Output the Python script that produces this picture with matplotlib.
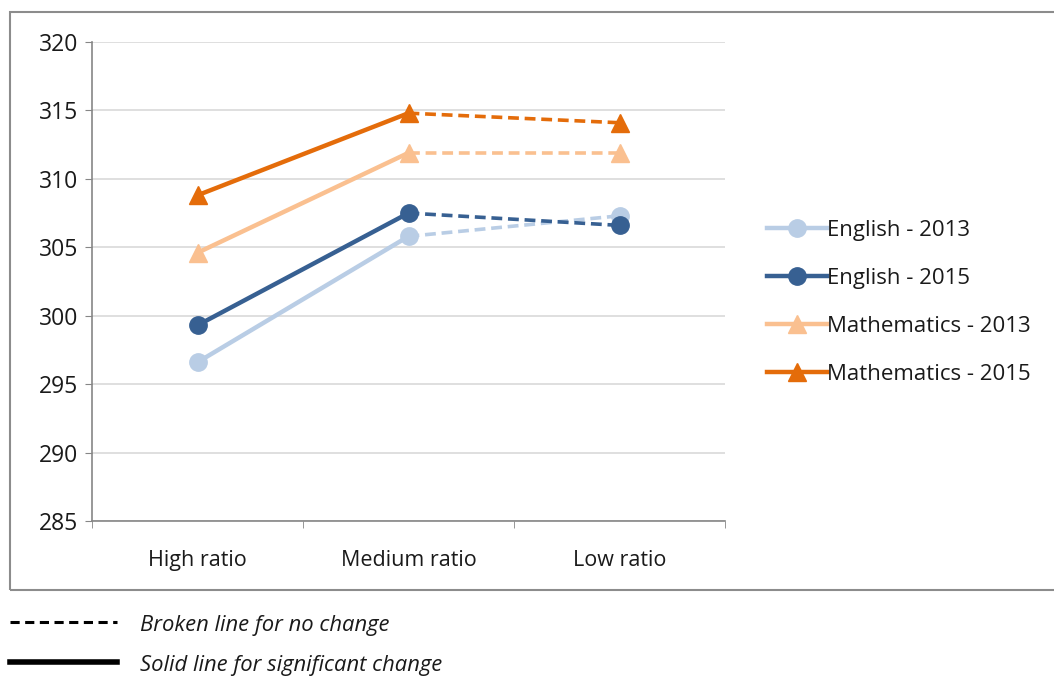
import matplotlib
matplotlib.use("Agg")
import matplotlib.pyplot as plt
from matplotlib.lines import Line2D
from matplotlib.patches import Rectangle

categories = ["High ratio", "Medium ratio", "Low ratio"]
english_2013 = [296.6, 305.8, 307.3]
english_2015 = [299.3, 307.5, 306.6]
maths_2013 = [304.6, 311.9, 311.9]
maths_2015 = [308.8, 314.8, 314.1]
series_names = ["English - 2013", "English - 2015", "Mathematics - 2013", "Mathematics - 2015"]
yticks = [285, 290, 295, 300, 305, 310, 315, 320]

colours = ["#B9CDE5", "#376092", "#FAC090", "#E46C0A"]
markers = ["o", "o", "^", "^"]

plt.rcParams["font.family"] = ["Open Sans", "DejaVu Sans"]

fig = plt.figure(figsize=(10.54, 6.76), dpi=100)
ax = fig.add_axes([92 / 1054, 1 - 521 / 676, (725 - 92) / 1054, (521 - 42) / 676])

x = list(range(len(categories)))
handles = []
for vals, col, mk, name in zip([english_2013, english_2015, maths_2013, maths_2015],
                               colours, markers, series_names):
    # first step is a significant change, second step is not
    ax.plot(x[:2], vals[:2], color=col, lw=3.2, solid_capstyle="round", zorder=3)
    ax.plot(x[1:], vals[1:], color=col, lw=2.6, ls=(0, (3, 1.6)), zorder=3)
    ax.plot(x, vals, ls="none", marker=mk, ms=12.5, color=col, zorder=4)
    handles.append(Line2D([], [], color=col, lw=3.2, marker=mk, ms=12.5))

ax.set_xlim(-0.5, 2.5)
ax.set_ylim(285, 320)
ax.set_yticks(yticks)
ax.set_xticks(x)
ax.set_xticklabels(categories)
ax.set_xticks([-0.5, 0.5, 1.5, 2.5], minor=True)
ax.tick_params(axis="x", which="major", length=0, pad=21, labelsize=15.5, labelcolor="#1a1a1a")
ax.tick_params(axis="x", which="minor", length=5, color="#868686", direction="out")
ax.tick_params(axis="y", length=5, color="#868686", pad=5, labelsize=16.5, labelcolor="#1a1a1a")
ax.grid(axis="y", color="#D9D9D9", lw=1.2, zorder=0)
for s in ["top", "right"]:
    ax.spines[s].set_visible(False)
for s in ["left", "bottom"]:
    ax.spines[s].set_color("#868686")
    ax.spines[s].set_linewidth(1.2)

fig.legend(handles=handles, labels=series_names, loc="upper left",
           bbox_to_anchor=(758 / 1054, 1 - 211 / 676), frameon=False,
           fontsize=16, handlelength=2.7, handletextpad=0.0, labelspacing=1.22,
           borderaxespad=0, labelcolor="#1a1a1a")

# outer frame round the chart
fig.add_artist(Rectangle((10 / 1054, 1 - 590 / 676), 1.2, (590 - 12) / 676,
                         transform=fig.transFigure, fill=False,
                         edgecolor="#8C8C8C", lw=1.5))

# key for line styles
fig.add_artist(Line2D([10 / 1054, 117 / 1054], [1 - 622 / 676] * 2, color="black",
                      lw=2.2, ls=(0, (3, 1.8)), transform=fig.transFigure))
fig.add_artist(Line2D([10 / 1054, 117 / 1054], [1 - 662 / 676] * 2, color="black",
                      lw=4, transform=fig.transFigure))
fig.text(140 / 1054, 1 - 626 / 676, "Broken line for no change", style="italic",
         fontsize=15.8, va="center", color="#1a1a1a")
fig.text(140 / 1054, 1 - 665 / 676, "Solid line for significant change", style="italic",
         fontsize=15.8, va="center", color="#1a1a1a")

fig.savefig("out.png", dpi=100)
